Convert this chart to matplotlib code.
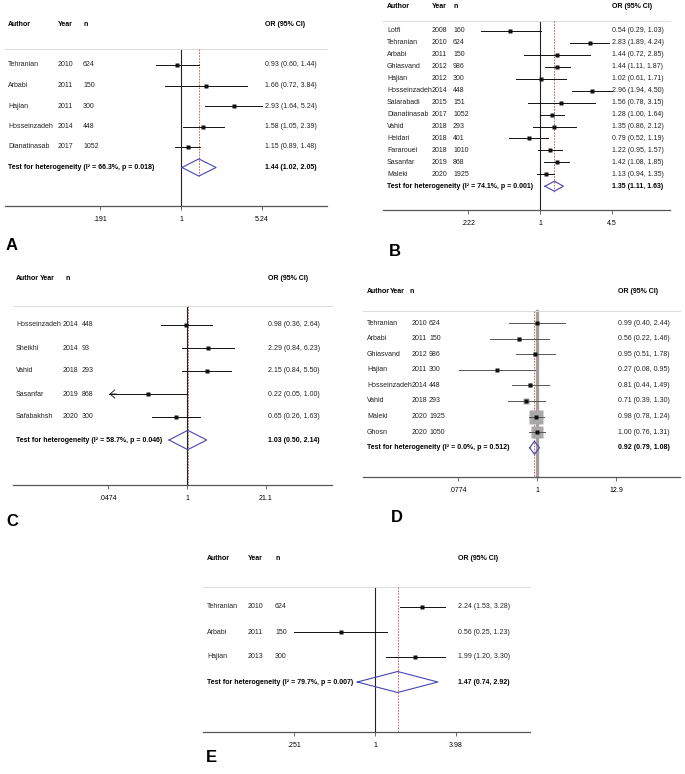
import numpy as np
import matplotlib
matplotlib.use('Agg')
import matplotlib.pyplot as plt
from matplotlib.transforms import blended_transform_factory
from matplotlib.ticker import NullLocator

plt.rcParams['font.family'] = ['Liberation Sans', 'DejaVu Sans']

# ---- data ----
a_author = ['Tehranian', 'Arbabi', 'Hajian', 'Hosseinzadeh', 'Dianatinasab']
a_year = [2010, 2011, 2011, 2014, 2017]
a_n = [624, 150, 300, 448, 1052]
a_or = [0.93, 1.66, 2.93, 1.58, 1.15]
a_lo = [0.60, 0.72, 1.64, 1.05, 0.89]
a_hi = [1.44, 3.84, 5.24, 2.39, 1.48]
a_pool = [1.44, 1.02, 2.05]
a_het = [66.3, 0.018]
a_ticks = [0.191, 1, 5.24]
a_ticklabels = ['.191', '1', '5.24']

b_author = ['Lotfi', 'Tehranian', 'Arbabi', 'Ghiasvand', 'Hajian', 'Hosseinzadeh',
            'Salarabadi', 'Dianatinasab', 'Vahid', 'Heidari', 'Fararouei',
            'Sasanfar', 'Maleki']
b_year = [2008, 2010, 2011, 2012, 2012, 2014, 2015, 2017, 2018, 2018, 2018, 2019, 2020]
b_n = [160, 624, 150, 986, 300, 448, 151, 1052, 293, 401, 1010, 868, 1925]
b_or = [0.54, 2.83, 1.44, 1.44, 1.02, 2.96, 1.56, 1.28, 1.35, 0.79, 1.22, 1.42, 1.13]
b_lo = [0.29, 1.89, 0.72, 1.11, 0.61, 1.94, 0.78, 1.00, 0.86, 0.52, 0.95, 1.08, 0.94]
b_hi = [1.03, 4.24, 2.85, 1.87, 1.71, 4.50, 3.15, 1.64, 2.12, 1.19, 1.57, 1.85, 1.35]
b_pool = [1.35, 1.11, 1.63]
b_het = [74.1, 0.001]
b_ticks = [0.222, 1, 4.5]
b_ticklabels = ['.222', '1', '4.5']

c_author = ['Hosseinzadeh', 'Sheikhi', 'Vahid', 'Sasanfar', 'Safabakhsh']
c_year = [2014, 2014, 2018, 2019, 2020]
c_n = [448, 93, 293, 868, 300]
c_or = [0.98, 2.29, 2.15, 0.22, 0.65]
c_lo = [0.36, 0.84, 0.84, 0.05, 0.26]
c_hi = [2.64, 6.23, 5.50, 1.00, 1.63]
c_pool = [1.03, 0.50, 2.14]
c_het = [58.7, 0.046]
c_ticks = [0.0474, 1, 21.1]
c_ticklabels = ['.0474', '1', '21.1']

d_author = ['Tehranian', 'Arbabi', 'Ghiasvand', 'Hajian', 'Hosseinzadeh', 'Vahid',
            'Maleki', 'Ghosn']
d_year = [2010, 2011, 2012, 2011, 2014, 2018, 2020, 2020]
d_n = [624, 150, 986, 300, 448, 293, 1925, 1050]
d_or = [0.99, 0.56, 0.95, 0.27, 0.81, 0.71, 0.98, 1.00]
d_lo = [0.40, 0.22, 0.51, 0.08, 0.44, 0.39, 0.78, 0.76]
d_hi = [2.44, 1.46, 1.78, 0.95, 1.49, 1.30, 1.24, 1.31]
d_pool = [0.92, 0.79, 1.08]
d_het = [0.0, 0.512]
d_ticks = [0.0774, 1, 12.9]
d_ticklabels = ['.0774', '1', '12.9']

e_author = ['Tehranian', 'Arbabi', 'Hajian']
e_year = [2010, 2011, 2013]
e_n = [624, 150, 300]
e_or = [2.24, 0.56, 1.99]
e_lo = [1.53, 0.25, 1.20]
e_hi = [3.28, 1.23, 3.30]
e_pool = [1.47, 0.74, 2.92]
e_het = [79.7, 0.007]
e_ticks = [0.251, 1, 3.98]
e_ticklabels = ['.251', '1', '3.98']

# ---- layout (pixels of the 685x774 canvas) ----
W, H = 685, 774
fig = plt.figure(figsize=(W / 100, H / 100), dpi=100)
fig.patch.set_facecolor('white')

FS = 5.0
DIAMOND = '#4646b4'
REDLINE = '#c0504d'


def forest(letter, author, year, n, orv, lo, hi, pool, het, ticks, ticklabels,
           box, col, letter_xy, weighted=False, arrow=(), ref_to_axis=False):
    L, R, yline, yaxis = box
    yhead, y0, dy, px1, ppl = col['yhead'], col['y0'], col['dy'], col['px1'], col['ppl']
    T = yhead - 10
    ax = fig.add_axes([L / W, 1 - yaxis / H, (R - L) / W, (yaxis - T) / H])
    ax.set_xscale('log')
    ax.set_xlim(np.exp((L - px1) / ppl), np.exp((R - px1) / ppl))
    ax.set_ylim((yaxis - y0) / dy, (T - y0) / dy)
    for s in ['top', 'left', 'right']:
        ax.spines[s].set_visible(False)
    ax.spines['bottom'].set_color('#555555')
    ax.spines['bottom'].set_linewidth(0.9)
    ax.set_yticks([])
    ax.set_xticks(ticks)
    ax.set_xticklabels(ticklabels)
    ax.xaxis.set_minor_locator(NullLocator())
    ax.tick_params(axis='x', length=3, width=0.6, color='#555555', labelsize=FS, pad=4)
    ax.patch.set_alpha(0)

    k = len(author)
    rows = np.arange(k)
    yl = (yline - y0) / dy
    ybot = (yaxis - y0) / dy
    ax.axhline(yl, color='#dddddd', lw=0.8, clip_on=False)

    # reference line at 1 and dashed pooled line
    if weighted:
        ax.plot([1, 1], [yl, ybot], color='#a0a0a0', lw=2.4, zorder=1)
    else:
        ax.plot([1, 1], [yl, ybot], color='#222222', lw=0.8, zorder=1)
    yend = ybot if ref_to_axis else k + 0.45
    ax.plot([pool[0], pool[0]], [yl, yend], color=REDLINE, lw=0.6,
            dashes=(2, 1.5), zorder=2)

    # study CIs and points
    if weighted:
        w = 1 / ((np.log(hi) - np.log(lo)) / 3.92) ** 2
        side = 9.4 * np.sqrt(w / w.max())
    lc = '#555555' if weighted else '#111111'
    for i in rows:
        ax.plot([lo[i], hi[i]], [i, i], color=lc, lw=0.7, zorder=3)
        if author[i] in arrow:
            ax.annotate('', xy=(lo[i], i), xytext=(lo[i] * 1.3, i),
                        arrowprops=dict(arrowstyle='->,head_length=0.35,head_width=0.3',
                                        color=lc, lw=0.6, mutation_scale=10,
                                        shrinkA=0, shrinkB=0))
        if weighted:
            ax.plot(orv[i], i, 's', ms=side[i], color='#a8a8a8', mec='none', zorder=2)
        ax.plot(orv[i], i, 's', ms=2.2, color='#111111', mec='none', zorder=4)

    # pooled diamond
    hh = 0.42
    ax.plot([pool[1], pool[0], pool[2], pool[0], pool[1]],
            [k, k - hh, k, k + hh, k], color=DIAMOND, lw=0.8, zorder=5)

    # text columns
    tr = blended_transform_factory(ax.transAxes, ax.transData)
    fx = lambda x: (x - L) / (R - L)
    yh = (yhead - y0) / dy
    hx = col.get('hdr_x', (col['xa'], col['xy'], col['xn']))
    for x, s in zip(hx, ['Author', 'Year', 'n']):
        ax.text(fx(x), yh, s, transform=tr, fontsize=FS, fontweight='bold',
                va='center', clip_on=False)
    ax.text(fx(col['xo']), yh, 'OR (95% CI)', transform=tr, fontsize=FS,
            fontweight='bold', va='center', clip_on=False)
    for i in rows:
        ax.text(fx(col['xa']), i, author[i], transform=tr, fontsize=FS, va='center',
                color='#222222')
        ax.text(fx(col['xy']), i, str(year[i]), transform=tr, fontsize=FS, va='center',
                color='#222222')
        ax.text(fx(col['xn']), i, str(n[i]), transform=tr, fontsize=FS, va='center',
                color='#222222')
        ax.text(fx(col['xo']), i, f'{orv[i]:.2f} ({lo[i]:.2f}, {hi[i]:.2f})',
                transform=tr, fontsize=FS, va='center', color='#222222')
    ax.text(fx(col['xa']), k,
            f'Test for heterogeneity (I\u00b2 = {het[0]:.1f}%, p = {het[1]:.3f})',
            transform=tr, fontsize=FS, fontweight='bold', va='center')
    ax.text(fx(col['xo']), k, f'{pool[0]:.2f} ({pool[1]:.2f}, {pool[2]:.2f})',
            transform=tr, fontsize=FS, fontweight='bold', va='center')

    fig.text(letter_xy[0] / W, 1 - letter_xy[1] / H, letter, fontsize=12,
             fontweight='bold', va='center', ha='left')
    return ax


forest('A', a_author, a_year, a_n, a_or, a_lo, a_hi, a_pool, a_het,
       a_ticks, a_ticklabels, box=(5, 327, 49, 206),
       col=dict(yhead=25, y0=65, dy=20.5, px1=181, ppl=48.9,
                xa=8, xy=58, xn=83, xo=265),
       letter_xy=(6, 245))

forest('B', b_author, b_year, b_n, b_or, b_lo, b_hi, b_pool, b_het,
       b_ticks, b_ticklabels, box=(383, 670, 21, 210),
       col=dict(yhead=7, y0=31, dy=11.94, px1=540, ppl=47.9,
                xa=387, xy=432, xn=453, xo=612),
       letter_xy=(389, 252))

forest('C', c_author, c_year, c_n, c_or, c_lo, c_hi, c_pool, c_het,
       c_ticks, c_ticklabels, box=(13, 332, 306, 485),
       col=dict(yhead=279, y0=325, dy=23, px1=187, ppl=25.9,
                xa=16, xy=63, xn=82, xo=268, hdr_x=(16, 40, 65)),
       letter_xy=(6, 522), arrow=('Sasanfar',), ref_to_axis=True)

forest('D', d_author, d_year, d_n, d_or, d_lo, d_hi, d_pool, d_het,
       d_ticks, d_ticklabels, box=(363, 680, 311, 477),
       col=dict(yhead=291, y0=323, dy=15.6, px1=537, ppl=30.9,
                xa=367, xy=412, xn=429, xo=618, hdr_x=(367, 390, 410)),
       letter_xy=(391, 518), weighted=True, ref_to_axis=True)

forest('E', e_author, e_year, e_n, e_or, e_lo, e_hi, e_pool, e_het,
       e_ticks, e_ticklabels, box=(203, 530, 587, 732),
       col=dict(yhead=558, y0=607, dy=25, px1=375, ppl=58.6,
                xa=207, xy=248, xn=275, xo=458),
       letter_xy=(206, 758), ref_to_axis=True)

fig.savefig('out.png', dpi=100, facecolor='white')
